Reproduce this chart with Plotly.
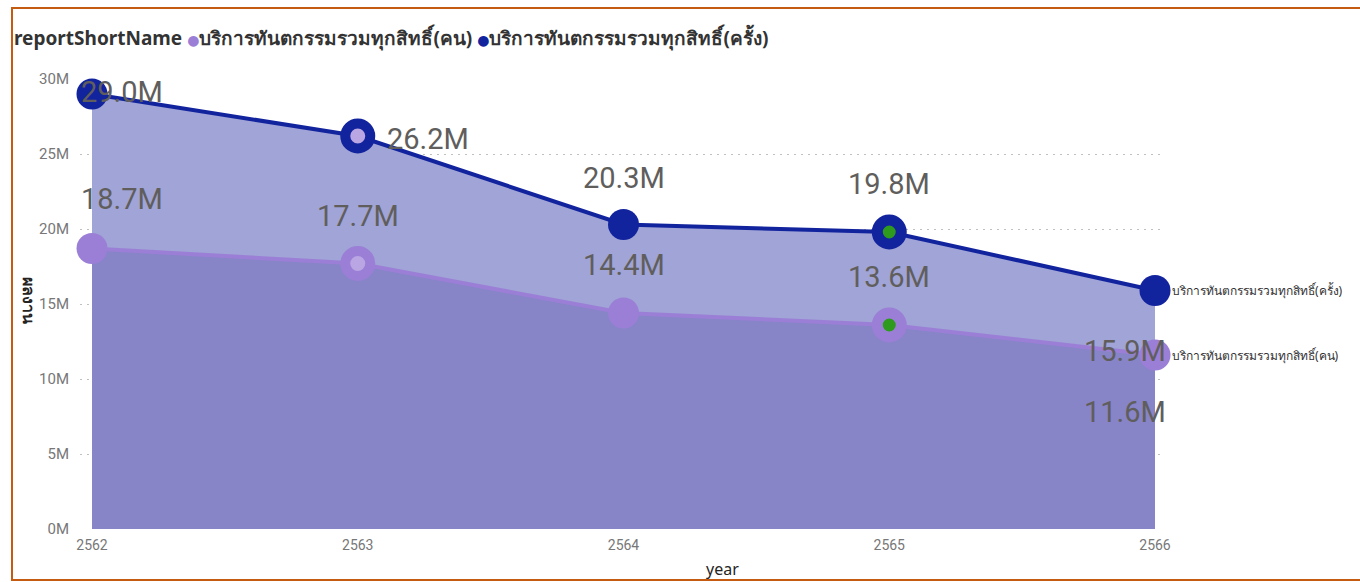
import plotly.graph_objects as go

years = [2562, 2563, 2564, 2565, 2566]
series_names = ["บริการทันตกรรมรวมทุกสิทธิ์(คน)", "บริการทันตกรรมรวมทุกสิทธิ์(ครั้ง)"]
persons = [18.7e6, 17.7e6, 14.4e6, 13.6e6, 11.6e6]
visits = [29.0e6, 26.2e6, 20.3e6, 19.8e6, 15.9e6]
y_tick_vals = [0, 5e6, 10e6, 15e6, 20e6, 25e6, 30e6]
y_tick_labels = ["0M", "5M", "10M", "15M", "20M", "25M", "30M"]
x_tick_labels = ["2562", "2563", "2564", "2565", "2566"]
legend_title = "reportShortName"
y_title = "ผลงาน"
x_title = "year"

NAVY = "#12239E"
PURPLE = "#9B7FD6"
NUM_FONT = "Roboto, sans-serif"
THAI_FONT = "Noto Sans, DejaVu Sans, sans-serif"

W, H = 1360, 582
L, R, T, B = 80, 195, 79, 53
pw, ph = W - L - R, H - T - B

marker_sizes = [31, 25, 31, 24, 31]
marker_lines = [0, 10, 0, 11, 0]

fig = go.Figure()

# visits (top area)
fig.add_trace(go.Scatter(
    x=years, y=visits, mode="lines+markers", fill="tozeroy",
    fillcolor="#A0A4D6", line=dict(color=NAVY, width=4),
    marker=dict(size=marker_sizes, opacity=1, color=[NAVY, "#B9A6E2", NAVY, "#2E9A1E", NAVY],
                line=dict(color=NAVY, width=marker_lines)),
    name=series_names[1], showlegend=False, cliponaxis=False,
))
# persons (lower area)
fig.add_trace(go.Scatter(
    x=years, y=persons, mode="lines+markers", fill="tozeroy",
    fillcolor="#8784C8", line=dict(color=PURPLE, width=4),
    marker=dict(size=marker_sizes, opacity=1, color=[PURPLE, "#B9A6E2", PURPLE, "#2E9A1E", PURPLE],
                line=dict(color=PURPLE, width=marker_lines)),
    name=series_names[0], showlegend=False, cliponaxis=False,
))

# data labels
visit_offsets = [(30, 2), (70, -3), (0, 47), (0, 48), (-30, -60)]
person_offsets = [(30, 50), (0, 48), (0, 48), (0, 48), (-30, -57)]
for vals, offs in ((visits, visit_offsets), (persons, person_offsets)):
    for xv, yv, (dx, dy) in zip(years, vals, offs):
        fig.add_annotation(x=xv, y=yv, text=f"{yv/1e6:.1f}M", showarrow=False,
                           xshift=dx, yshift=dy, xanchor="center", yanchor="middle",
                           font=dict(family=NUM_FONT, size=29, color="#605E5C"))

# series end labels
for name, vals in ((series_names[1], visits), (series_names[0], persons)):
    fig.add_annotation(x=years[-1], y=vals[-1], text=name, showarrow=False,
                       xanchor="left", yanchor="middle", xshift=15,
                       font=dict(family=THAI_FONT, size=12, color="#333333"))

# legend as text
legend_text = (f"<b>{legend_title}</b> <span style='color:{PURPLE};font-size:14px'>●</span>"
               f"<b>{series_names[0]}</b> <span style='color:{NAVY};font-size:14px'>●</span>"
               f"<b>{series_names[1]}</b>")
fig.add_annotation(xref="paper", yref="paper", x=(12 - L) / pw, y=(H - B - 37) / ph,
                   xanchor="left", yanchor="middle", showarrow=False, text=legend_text,
                   font=dict(family=THAI_FONT, size=19, color="#333333"))

# y title rotated clockwise
fig.add_annotation(xref="paper", yref="paper", x=(29 - L) / pw, y=(H - B - 300) / ph,
                   xanchor="center", yanchor="middle", showarrow=False, textangle=90,
                   text=f"<b>{y_title}</b>",
                   font=dict(family=THAI_FONT, size=16, color="#252423"))

# x title
fig.add_annotation(xref="paper", yref="paper", x=(722 - L) / pw, y=(H - B - 569) / ph,
                   xanchor="center", yanchor="middle", showarrow=False,
                   text=x_title, font=dict(family=THAI_FONT, size=16, color="#252423"))

# orange frame
fig.add_shape(type="rect", xref="paper", yref="paper",
              x0=(12 - L) / pw, x1=(1365 - L) / pw,
              y0=(H - B - 580) / ph, y1=(H - B - 8) / ph,
              line=dict(color="#C55A11", width=2), fillcolor="rgba(0,0,0,0)", layer="above")

fig.update_layout(
    width=W, height=H, margin=dict(l=L, r=R, t=T, b=B),
    paper_bgcolor="white", plot_bgcolor="white", showlegend=False,
)
fig.update_xaxes(range=[2562 - 12 / 265.75, 2566 + 10 / 265.75], tickvals=years,
                 ticktext=x_tick_labels, showgrid=False, zeroline=False, showline=False,
                 tickfont=dict(family=NUM_FONT, size=14, color="#777777"), ticks="", ticklabelstandoff=6)
fig.update_yaxes(range=[0, 30e6], tickvals=y_tick_vals, ticktext=y_tick_labels,
                 showgrid=True, gridcolor="#C0C0C0", griddash="2px,5px", gridwidth=1,
                 zeroline=False, showline=False,
                 tickfont=dict(family=NUM_FONT, size=15, color="#777777"), ticks="", ticklabelstandoff=10)

fig.write_html("out.html", config={"displayModeBar": False},
               post_script="document.body.style.margin='0';document.body.style.overflow='hidden';")
